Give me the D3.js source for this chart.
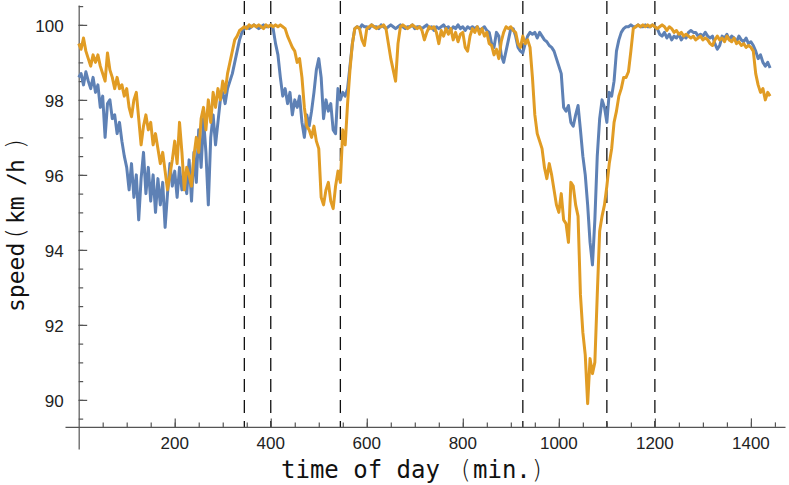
<!DOCTYPE html>
<html>
<head>
<meta charset="utf-8">
<script src="https://cdn.jsdelivr.net/npm/d3@7"></script>
<style>
  html, body { margin: 0; padding: 0; background: #fff; }
  svg { display: block; }
  .ticklbl { font-family: "Liberation Sans", Arial, sans-serif; font-size: 17px; fill: #222; }
  .title { font-family: "DejaVu Sans Mono", monospace; font-size: 24px; fill: #111; }
  .paren { font-family: "DejaVu Sans", sans-serif; font-weight: 200; font-size: 25px; }
  .axis path, .axis line { stroke: #555; stroke-width: 1.2; }
</style>
</head>
<body>
<script>
// sample times, every 5 minutes over the day
var minutes = d3.range(0, 1441, 5);

// blue series (km/h), one row per hour
var speedBlue = [
  98.6, 98.7, 98.4, 98.75, 98.5, 98.3, 98.6, 98.2, 98.4, 97.8, 98.1, 97.0,
  97.9, 98.0, 97.5, 97.6, 97.1, 97.4, 96.9, 96.5, 96.2, 95.6, 96.3, 95.4,
  96.0, 94.8, 95.9, 96.6, 95.5, 96.2, 95.3, 96.0, 95.0, 95.9, 95.2, 95.8,
  94.6, 95.5, 96.3, 95.7, 96.1, 95.4, 96.2, 95.6, 96.0, 95.5, 96.4, 95.3,
  96.6, 95.8, 97.2, 96.2, 97.5, 96.6, 95.2, 97.0, 97.6, 96.8, 97.4, 98.0,
  98.2, 97.9, 98.3, 98.5, 98.7, 99.0, 99.3, 99.6, 99.8, 99.9, 99.95, 99.9,
  99.95, 100.0, 99.95, 99.9, 99.95, 100.0, 99.95, 99.95, 100.0, 99.9, 99.5, 99.2,
  98.6, 98.1, 98.3, 97.9, 98.2, 97.6, 98.0, 97.8, 98.1, 97.4, 97.0, 97.6,
  97.3, 97.7, 98.2, 98.8, 99.1, 98.6, 97.5, 98.0, 97.7, 97.9, 97.2, 97.1,
  98.3, 98.0, 98.2, 98.1, 98.3, 98.9, 99.5, 99.9, 99.95, 99.9, 100.0, 99.95,
  99.95, 99.9, 100.0, 99.95, 99.95, 99.9, 100.0, 99.95, 99.9, 99.95, 100.0, 99.95,
  99.9, 99.95, 100.0, 99.95, 99.9, 99.95, 99.95, 100.0, 99.9, 99.95, 99.95, 99.9,
  99.95, 100.0, 99.9, 99.95, 99.85, 99.95, 99.9, 99.95, 100.0, 99.9, 99.95, 99.85,
  99.95, 99.9, 100.0, 99.9, 99.95, 99.85, 99.95, 99.9, 99.95, 99.9, 99.95, 99.85,
  99.9, 99.95, 99.85, 99.8, 99.5, 99.4, 99.8, 99.7, 99.2, 99.0, 99.3, 99.6,
  99.9, 99.9, 99.7, 99.4, 99.3, 99.25, 99.5, 99.7, 99.8, 99.75, 99.8, 99.65,
  99.8, 99.7, 99.6, 99.55, 99.45, 99.4, 99.3, 99.1, 98.9, 98.7, 97.8, 97.7,
  97.85, 97.4, 97.3, 97.6, 97.85, 97.2, 96.5, 96.0, 95.2, 94.2, 93.6, 94.8,
  96.5, 97.5, 98.0, 97.8, 97.4, 98.2, 98.1, 98.5, 99.3, 99.6, 99.8, 99.9,
  99.95, 99.95, 100.0, 99.95, 99.95, 100.0, 99.95, 99.95, 100.0, 99.95, 99.95, 100.0,
  99.95, 99.9, 99.75, 99.7, 99.8, 99.65, 99.75, 99.6, 99.7, 99.65, 99.75, 99.6,
  99.7, 99.65, 99.8, 99.85, 99.8, 99.8, 99.7, 99.75, 99.7, 99.8, 99.7, 99.65,
  99.7, 99.5, 99.35, 99.45, 99.7, 99.65, 99.75, 99.6, 99.7, 99.65, 99.55, 99.7,
  99.6, 99.55, 99.65, 99.5, 99.55, 99.45, 99.3, 99.1, 99.2, 99.0, 98.9, 99.0,
  98.85
];

// orange series (km/h)
var speedOrange = [
  99.5, 99.35, 99.65, 99.3, 99.1, 98.9, 99.2, 99.0, 99.2, 98.9, 98.7, 98.5,
  99.25, 98.8, 98.6, 98.3, 98.6, 98.3, 98.4, 98.1, 98.3, 97.8, 97.55, 98.0,
  98.2, 97.5, 96.8, 97.3, 97.6, 97.2, 97.4, 96.8, 97.1, 96.7, 96.3, 96.6,
  96.1, 95.6, 96.0, 96.4, 96.9, 96.3, 97.4, 96.6, 95.6, 96.2, 96.0, 95.7,
  96.5, 97.0, 96.6, 97.5, 97.8, 97.2, 98.0, 97.4, 98.2, 97.8, 98.3, 98.0,
  98.5, 98.2, 98.7, 99.0, 99.3, 99.6, 99.7, 99.85, 99.9, 99.95, 99.9, 100.0,
  99.95, 100.0, 99.95, 100.0, 99.95, 99.9, 100.0, 99.95, 100.0, 99.95, 100.0, 99.95,
  100.0, 99.95, 99.9, 99.7, 99.55, 99.4, 99.3, 99.0, 99.1, 98.6, 97.8, 97.3,
  97.2, 97.0, 97.3, 96.9, 96.7, 95.4, 95.2, 95.6, 95.8, 95.3, 95.1, 95.7,
  96.1, 95.8, 97.2, 96.8, 97.9, 98.8, 99.5, 99.9, 99.95, 99.9, 99.6, 99.45,
  99.9, 99.95, 100.0, 99.95, 99.9, 99.95, 99.95, 100.0, 99.9, 99.5, 99.1, 98.8,
  98.5, 99.5, 99.95, 100.0, 99.95, 99.9, 99.95, 100.0, 99.95, 99.9, 99.95, 99.85,
  99.6, 99.8, 99.95, 99.9, 99.95, 99.8, 99.5, 99.85, 99.7, 99.9, 99.75, 99.9,
  99.6, 99.8, 99.55, 99.75, 99.8, 99.4, 99.3, 99.7, 99.9, 99.8, 99.95, 99.75,
  99.9, 99.7, 99.8, 99.5, 99.45, 99.2, 99.35, 99.1, 99.55, 99.8, 99.95, 99.9,
  99.95, 99.85, 99.8, 99.5, 99.4, 99.7, 99.5, 99.6, 99.4, 98.6, 97.6, 97.1,
  96.9, 96.7, 96.2, 95.9, 96.3, 96.0, 95.6, 95.2, 95.0, 95.5, 94.8, 94.7,
  94.2, 95.8, 95.7, 95.2, 94.9, 92.8, 91.8, 91.2, 89.9, 91.1, 90.7, 91.0,
  92.8, 94.5, 94.9, 95.2, 95.7, 96.3, 96.7, 97.4, 97.7, 98.1, 98.3, 98.6,
  98.6, 98.75, 99.3, 99.9, 99.95, 100.0, 99.95, 100.0, 99.95, 100.0, 99.95, 100.0,
  99.95, 99.9, 99.95, 100.0, 99.95, 99.85, 99.95, 99.9, 99.8, 99.85, 99.75, 99.8,
  99.7, 99.75, 99.7, 99.65, 99.7, 99.6, 99.65, 99.7, 99.6, 99.65, 99.6, 99.5,
  99.45, 99.6, 99.7, 99.6, 99.65, 99.55, 99.7, 99.6, 99.55, 99.65, 99.5, 99.55,
  99.45, 99.5, 99.4, 99.45, 99.4, 99.3, 98.7, 98.4, 98.2, 98.3, 98.0, 98.2,
  98.1
];

// vertical dashed markers (minutes)
var dashedAt = [345, 400, 545, 925, 1100, 1200];

var xTicks = [200, 400, 600, 800, 1000, 1200, 1400];
var xMinor = d3.range(50, 1451, 50);
var yTicks = [90, 92, 94, 96, 98, 100];
var yMinor = d3.range(89.5, 100.51, 0.5);

var width = 789, height = 485;
var originX = 0, originY = 89.28;

var svg = d3.select("body").append("svg")
    .attr("width", width)
    .attr("height", height);

var x = d3.scaleLinear().domain([-28.5, 1471]).range([65, 785]);
var y = d3.scaleLinear().domain([88.69, 100.53]).range([449, 5]);

// dashed lines
svg.append("g")
    .selectAll("line")
    .data(dashedAt)
    .enter().append("line")
    .attr("x1", function(d) { return x(d); })
    .attr("x2", function(d) { return x(d); })
    .attr("y1", y.range()[1] - 4)
    .attr("y2", y(originY))
    .attr("stroke", "#111")
    .attr("stroke-width", 1.3)
    .attr("stroke-dasharray", "13,8");

// x axis, ticks pointing up into the plot
var gx = svg.append("g")
    .attr("class", "axis")
    .attr("transform", "translate(0," + y(originY) + ")");
gx.call(d3.axisTop(x).tickValues(xMinor).tickSize(4.5).tickSizeOuter(0).tickFormat(""));
gx.append("g").call(d3.axisTop(x).tickValues(xTicks).tickSize(8.5).tickSizeOuter(0).tickFormat(""))
    .select(".domain").remove();
gx.selectAll(".tick text").remove();

svg.append("g")
    .selectAll("text")
    .data(xTicks)
    .enter().append("text")
    .attr("class", "ticklbl")
    .attr("x", function(d) { return x(d); })
    .attr("y", y(originY) + 22)
    .attr("text-anchor", "middle")
    .text(function(d) { return d; });

// y axis, ticks pointing right
var gy = svg.append("g")
    .attr("class", "axis")
    .attr("transform", "translate(" + x(originX) + ",0)");
gy.call(d3.axisRight(y).tickValues(yMinor).tickSize(4.5).tickSizeOuter(0).tickFormat(""));
gy.append("g").call(d3.axisRight(y).tickValues(yTicks).tickSize(8.5).tickSizeOuter(0).tickFormat(""))
    .select(".domain").remove();

svg.append("g")
    .selectAll("text")
    .data(yTicks)
    .enter().append("text")
    .attr("class", "ticklbl")
    .attr("x", x(originX) - 15)
    .attr("y", function(d) { return y(d) + 7; })
    .attr("text-anchor", "end")
    .text(function(d) { return d; });

// series
var line = d3.line()
    .x(function(d, i) { return x(minutes[i]); })
    .y(function(d) { return y(d); });

var series = [
    { values: speedBlue, color: "#5e81b5" },
    { values: speedOrange, color: "#e19c24" }
];

svg.append("g")
    .selectAll("path")
    .data(series)
    .enter().append("path")
    .attr("d", function(d) { return line(d.values); })
    .attr("fill", "none")
    .attr("stroke", function(d) { return d.color; })
    .attr("stroke-width", 3)
    .attr("stroke-linejoin", "round");

// axis titles
var xt = svg.append("text")
    .attr("class", "title")
    .attr("y", 478);
xt.append("tspan").attr("x", 281).text("time of day");
xt.append("tspan").attr("x", 461).attr("class", "paren").text("(");
xt.append("tspan").attr("x", 473).text("min.");
xt.append("tspan").attr("x", 532).attr("class", "paren").text(")");

var yt = svg.append("text")
    .attr("class", "title")
    .style("font-size", "23px")
    .attr("transform", "translate(24,0) rotate(-90)");
yt.append("tspan").attr("x", -312).text("speed");
yt.append("tspan").attr("x", -238).attr("class", "paren").text("(");
yt.append("tspan").attr("x", -224).text("km");
yt.append("tspan").attr("x", -186).text("/");
yt.append("tspan").attr("x", -173).text("h");
yt.append("tspan").attr("x", -149).attr("class", "paren").text(")");
</script>
</body>
</html>
